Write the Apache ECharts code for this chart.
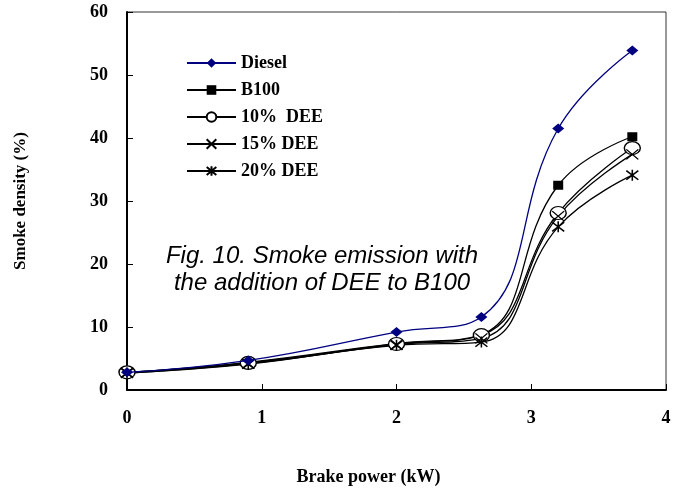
<!DOCTYPE html>
<html>
<head>
<meta charset="utf-8">
<script src="https://cdn.jsdelivr.net/npm/echarts@6/dist/echarts.min.js"></script>
<style>
  html, body { margin: 0; padding: 0; background: #fff; }
  #chart { width: 688px; height: 491px; }
</style>
</head>
<body>
<div id="chart"></div>
<script>
  // brake power (kW)
  var power = [0, 0.9, 2, 2.63, 3.2, 3.75];
  // smoke density (%)
  var diesel = [2.8, 4.7, 9.2, 11.6, 41.5, 53.9];
  var b100 = [2.8, 4.4, 7.4, 8.8, 32.5, 40.2];
  var dee10 = [2.8, 4.3, 7.3, 8.7, 28.1, 38.4];
  var dee15 = [2.7, 4.2, 7.2, 8.2, 27.6, 37.4];
  var dee20 = [2.7, 4.1, 7.1, 7.6, 25.9, 34.1];
  var names = ['Diesel', 'B100', '10%  DEE', '15% DEE', '20% DEE'];

  var serif = '"Liberation Serif", "DejaVu Serif", serif';

  function pairs (ys) {
    return power.map(function (x, i) { return [x, ys[i]]; });
  }

  var chart = echarts.init(document.getElementById('chart'));

  var option = {
    animation: false,
    grid: {
      left: 127, right: 22, top: 12, bottom: 101,
      show: true, borderColor: '#333', borderWidth: 1
    },
    legend: {
      orient: 'vertical',
      left: 186, top: 54,
      padding: 0,
      itemWidth: 49, itemHeight: 12,
      itemGap: 9,
      textStyle: { fontFamily: serif, fontWeight: 'bold', fontSize: 18, lineHeight: 18, color: '#000' },
      data: names
    },
    xAxis: {
      type: 'value', min: 0, max: 4, interval: 1,
      name: 'Brake power (kW)', nameLocation: 'middle', nameGap: 78,
      nameTextStyle: { fontFamily: serif, fontWeight: 'bold', fontSize: 18, color: '#000', padding: [0, 56, 0, 0] },
      axisLine: { lineStyle: { color: '#000', width: 2 } },
      axisTick: { inside: true, length: 6, lineStyle: { color: '#000' } },
      axisLabel: { margin: 19, fontFamily: serif, fontWeight: 'bold', fontSize: 18, color: '#000' },
      splitLine: { show: false }
    },
    yAxis: {
      type: 'value', min: 0, max: 60, interval: 10,
      name: 'Smoke density (%)', nameLocation: 'middle', nameGap: 98, nameRotate: 90,
      nameTextStyle: { fontFamily: serif, fontWeight: 'bold', fontSize: 17, color: '#000' },
      axisLine: { lineStyle: { color: '#000', width: 2 } },
      axisTick: { inside: true, length: 6, lineStyle: { color: '#000' } },
      axisLabel: { margin: 19, fontFamily: serif, fontWeight: 'bold', fontSize: 18, color: '#000' },
      splitLine: { show: false }
    },
    graphic: [{
      type: 'text',
      x: 322, y: 270,
      style: {
        text: 'Fig. 10. Smoke emission with\nthe addition of DEE to B100',
        font: 'italic 24px "Liberation Sans", Arial, sans-serif',
        fill: '#000',
        align: 'center',
        verticalAlign: 'middle',
        lineHeight: 27
      }
    }],
    series: [
      {
        name: names[0], type: 'line', smooth: 0.45, data: pairs(diesel),
        symbol: 'diamond', symbolSize: [12, 10],
        itemStyle: { color: '#000080' },
        lineStyle: { color: '#000080', width: 1.3 },
        z: 5
      },
      {
        name: names[1], type: 'line', smooth: 0.45, data: pairs(b100),
        symbol: 'rect', symbolSize: [10, 9],
        itemStyle: { color: '#000' },
        lineStyle: { color: '#000', width: 1.3 }
      },
      {
        name: names[2], type: 'line', smooth: 0.45, data: pairs(dee10),
        symbol: 'circle', symbolSize: [16, 13],
        itemStyle: { color: '#fff', borderColor: '#000', borderWidth: 1.3 },
        lineStyle: { color: '#000', width: 1.3 }
      },
      {
        name: names[3], type: 'line', smooth: 0.45, data: pairs(dee15),
        symbol: 'path://M0,0L10,10M10,0L0,10', symbolSize: [12, 10],
        itemStyle: { color: 'none', borderColor: '#000', borderWidth: 1.3 },
        lineStyle: { color: '#000', width: 1.3 }
      },
      {
        name: names[4], type: 'line', smooth: 0.45, data: pairs(dee20),
        symbol: 'path://M0,0L10,10M10,0L0,10M5,-1L5,11', symbolSize: [12, 11],
        itemStyle: { color: 'none', borderColor: '#000', borderWidth: 1.5 },
        lineStyle: { color: '#000', width: 1.3 }
      }
    ]
  };

  chart.setOption(option);
</script>
</body>
</html>
